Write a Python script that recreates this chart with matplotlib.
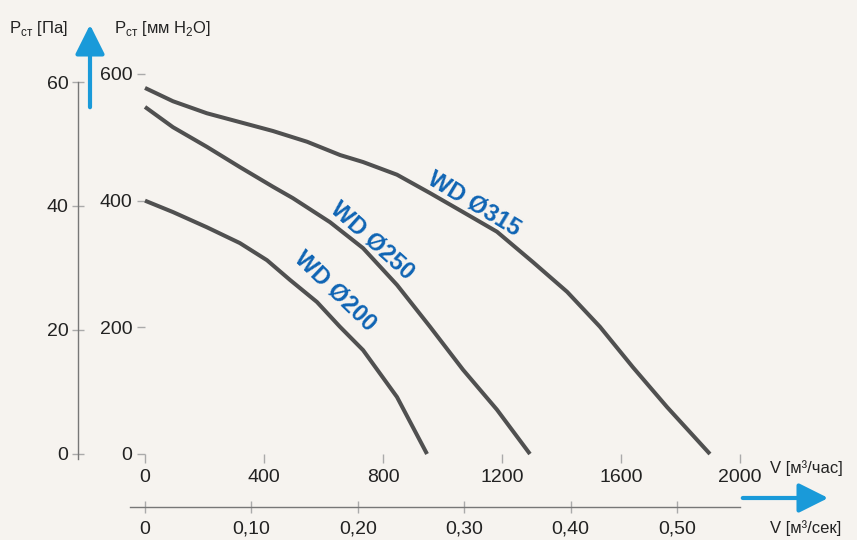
import numpy as np
import matplotlib
matplotlib.use("Agg")
import matplotlib.pyplot as plt

plt.rcParams['font.family'] = ['Liberation Sans', 'DejaVu Sans']

# curve data: flow V [m3/h] vs static pressure (right-hand scale)
v_315 = [0, 94, 208, 319, 430, 545, 656, 733, 847, 958, 1069, 1183, 1304, 1419, 1529, 1640, 1755, 1899]
p_315 = [578, 557, 538, 524, 510, 493, 472, 461, 441, 412, 382, 351, 303, 256, 201, 137, 74, 0]
v_250 = [0, 94, 208, 319, 430, 497, 622, 733, 847, 958, 1069, 1183, 1294]
p_250 = [548, 516, 485, 453, 422, 404, 366, 325, 267, 201, 133, 70, 0]
v_200 = [0, 94, 208, 319, 410, 487, 578, 655, 733, 847, 948]
p_200 = [400, 382, 358, 333, 306, 275, 240, 201, 164, 90, 0]

names = ["WD Ø315", "WD Ø250", "WD Ø200"]
label_pos = [(1107, 395, -31), (765, 337, -42), (640, 258, -44)]

mm_ticks = [0, 200, 400, 600]
pa_ticks = [0, 20, 40, 60]
vh_ticks = [0, 400, 800, 1200, 1600, 2000]
vs_ticks = [0, 0.10, 0.20, 0.30, 0.40, 0.50]
vs_labels = ["0", "0,10", "0,20", "0,30", "0,40", "0,50"]

bg = "#f6f3ef"
curve_col = "#505050"
blue = "#0f64b4"
arrow_col = "#1a9ad9"
axis_col = "#777777"
txt_col = "#222222"

W, H = 857, 540
fig = plt.figure(figsize=(W/100, H/100), dpi=100, facecolor=bg)

def fx(px):
    return px / W

def fy(py):
    return 1 - py / H

# main axes: m3/h vs mm H2O
ax = fig.add_axes([fx(145), fy(454), fx(740) - fx(145), fy(74) - fy(454)])
ax.set_facecolor("none")
ax.set_xlim(0, 2000)
ax.set_ylim(0, 600)
for s in ax.spines.values():
    s.set_visible(False)
ax.set_yticks(mm_ticks)
ax.set_xticks(vh_ticks)
ax.tick_params(axis='y', direction='out', length=6, width=1, color="#aaaaaa",
               labelsize=14, labelcolor=txt_col, pad=3)
ax.tick_params(axis='x', direction='out', length=6.5, width=1, color="#aaaaaa",
               labelsize=14, labelcolor=txt_col, pad=4)

for v, p in [(v_315, p_315), (v_250, p_250), (v_200, p_200)]:
    ax.plot(v, p, color=curve_col, lw=2.9, solid_capstyle='butt',
            solid_joinstyle='round', clip_on=False)

for name, (x, y, rot) in zip(names, label_pos):
    ax.text(x, y, name, color=blue, fontsize=17, fontweight='bold',
            rotation=rot, ha='center', va='center', rotation_mode='anchor')

# Pa axis on the far left (0 -> y=454 px, 60 -> y=82 px, line runs to 459)
ax_pa = fig.add_axes([fx(78), fy(459), 0.002, fy(82) - fy(459)])
ax_pa.set_facecolor("none")
ax_pa.set_ylim(-5 * 60 / (454 - 82), 60)
for k in ['top', 'right', 'bottom']:
    ax_pa.spines[k].set_visible(False)
ax_pa.spines['left'].set_color(axis_col)
ax_pa.spines['left'].set_linewidth(1)
ax_pa.set_xticks([])
ax_pa.set_yticks(pa_ticks)
ax_pa.tick_params(axis='y', direction='inout', length=8, width=1, color="#aaaaaa",
                  labelsize=14, labelcolor=txt_col, pad=3)

# m3/s axis below
vs_left = (130 - 145) / 1064
vs_right = (740 - 145) / 1064
ax_s = fig.add_axes([fx(130), fy(507), fx(740) - fx(130), 0.002])
ax_s.set_facecolor("none")
ax_s.set_xlim(vs_left, vs_right)
for k in ['top', 'right', 'left']:
    ax_s.spines[k].set_visible(False)
ax_s.spines['bottom'].set_color(axis_col)
ax_s.spines['bottom'].set_linewidth(1)
ax_s.set_yticks([])
ax_s.set_xticks(vs_ticks)
ax_s.set_xticklabels(vs_labels)
ax_s.tick_params(axis='x', direction='inout', length=8, width=1, color="#aaaaaa",
                 labelsize=14, labelcolor=txt_col, pad=6)

# arrows
fig.add_artist(matplotlib.patches.FancyArrowPatch(
    (fx(90), fy(110)), (fx(90), fy(22)), transform=fig.transFigure,
    arrowstyle='-|>,head_length=9,head_width=4.5', color=arrow_col, lw=3,
    mutation_scale=2))
fig.add_artist(matplotlib.patches.FancyArrowPatch(
    (fx(740), fy(498)), (fx(831), fy(498)), transform=fig.transFigure,
    arrowstyle='-|>,head_length=9,head_width=4.5', color=arrow_col, lw=3,
    mutation_scale=2))

# axis titles
fig.text(fx(9), fy(29), r"P$_\mathregular{ст}$ [Па]", fontsize=12, color=txt_col,
         ha='left', va='center')
fig.text(fx(114), fy(29), r"P$_\mathregular{ст}$ [мм H$_\mathregular{2}$O]", fontsize=12,
         color=txt_col, ha='left', va='center')
fig.text(fx(770), fy(468), "V [м³/час]", fontsize=12, color=txt_col,
         ha='left', va='center')
fig.text(fx(770), fy(528), "V [м³/сек]", fontsize=12, color=txt_col,
         ha='left', va='center')

fig.savefig("out.png", dpi=100, facecolor=bg)
